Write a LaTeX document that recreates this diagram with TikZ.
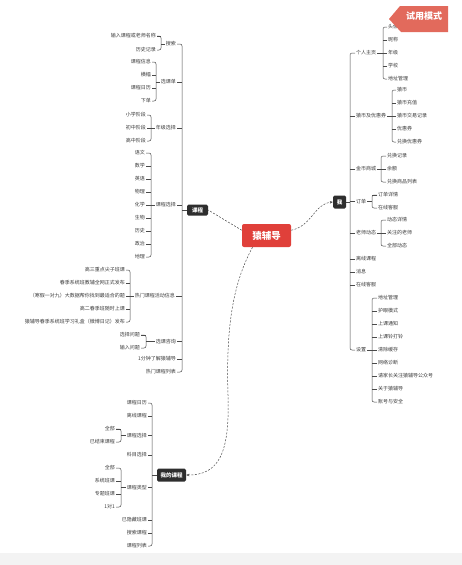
\documentclass[tikz,border=0pt]{standalone}
\usepackage{fontspec}
\setmainfont{Noto Sans CJK SC}
\usepackage{xcolor}
\usetikzlibrary{arrows.meta}
\definecolor{txtc}{HTML}{3A3A3A}
\definecolor{linec}{HTML}{4A4A4A}
\definecolor{hubc}{HTML}{2E2E2E}
\definecolor{rootc}{HTML}{E0403A}
\definecolor{bannerc}{HTML}{E26A5C}
\definecolor{bandc}{HTML}{F3F3F3}
% bracket to the left of a parent: parent, x of bracket, first child, last child, other children
\newcommand{\brkL}[5]{%
  \coordinate (#1v) at (#2,0);
  \draw[br] (#1.west) -- (#1.west -| #1v);
  \draw[br, rounded corners=2pt] (#3.east) -| (#1.west -| #1v) |- (#4.east);
  \foreach \ch in {#5} {\draw[br] (\ch.east) -- (\ch.east -| #1v);}
}
% bracket to the right of a parent
\newcommand{\brkR}[5]{%
  \coordinate (#1v) at (#2,0);
  \draw[br] (#1.east) -- (#1.east -| #1v);
  \draw[br, rounded corners=2pt] (#3.west) -| (#1.east -| #1v) |- (#4.west);
  \foreach \ch in {#5} {\draw[br] (\ch.west) -- (\ch.west -| #1v);}
}
\begin{document}
\begin{tikzpicture}[x=1pt, y=-1pt,
  lt/.style={anchor=east, inner sep=1pt, text=txtc, font=\fontsize{5}{6}\selectfont},
  rt/.style={lt, anchor=west},
  hub/.style={fill=hubc, text=white, rounded corners=1.5pt, inner sep=0pt, font=\fontsize{5.5}{6}\selectfont\bfseries},
  rootbox/.style={fill=rootc, text=white, rounded corners=2pt, inner sep=0pt, minimum width=49pt, minimum height=23pt, font=\fontsize{9.5}{10}\selectfont\bfseries},
  br/.style={draw=linec, line width=0.5pt},
  rel/.style={draw=linec, line width=0.5pt, dash pattern=on 2pt off 1.5pt}]
  \useasboundingbox (0,0) rectangle (462,565);
  \fill[bandc] (0,553) rectangle (462,565);
  % root and main topics
  \node[rootbox] (yf) at (266.5,235.5) {猿辅导};
  \node[hub, minimum width=21pt, minimum height=11pt] (kc) at (197.5,210) {课程};
  \node[hub, minimum width=13pt, minimum height=13pt] (wo) at (339.5,202) {我};
  \node[hub, minimum width=29pt, minimum height=13pt] (mk) at (171.5,475) {我的课程};
  \draw[rel] (yf.168) .. controls (228,222) .. (kc.east);
  \draw[rel, -{Stealth[length=3pt,width=2.5pt]}] (yf.12) .. controls (312,226) and (314,204) .. (wo.west);
  \draw[rel, -{Stealth[length=3pt,width=2.5pt]}] (yf.-140) .. controls (232,285) and (226,330) .. (228,395) .. controls (230,455) and (218,475) .. (mk.east);
  % 课程
  \node[lt] (k1) at (177,44) {搜索};
  \node[lt] (k2) at (177,82) {选课单};
  \node[lt] (k3) at (177,128) {年级选择};
  \node[lt] (k4) at (177,205) {课程选择};
  \node[lt] (k5) at (176,296) {热门课程活动信息};
  \node[lt] (k6) at (177,341.5) {选课咨询};
  \node[lt] (k7) at (177,359) {1分钟了解猿辅导};
  \node[lt] (k8) at (177,372) {热门课程列表};
  \brkL{kc}{182}{k1}{k8}{k2,k3,k4,k5,k6,k7}
  \node[lt] (k1c1) at (157,36) {输入课程或老师名称};
  \node[lt] (k1c2) at (157,50) {历史记录};
  \brkL{k1}{161}{k1c1}{k1c2}{k1c1}
  \foreach \t [count=\i] in {课程信息,横幅,课程日历,下单}
    \node[lt] (k2c\i) at (152,{49+13*\i}) {\t};
  \brkL{k2}{156}{k2c1}{k2c4}{k2c2,k2c3}
  \foreach \t [count=\i] in {小学阶段,初中阶段,高中阶段}
    \node[lt] (k3c\i) at (147,{102+13*\i}) {\t};
  \brkL{k3}{151}{k3c1}{k3c3}{k3c2}
  \foreach \t [count=\i] in {语文,数学,英语,物理,化学,生物,历史,政治,地理}
    \node[lt] (k4c\i) at (146,{140+13*\i}) {\t};
  \brkL{k4}{151}{k4c1}{k4c9}{k4c2,k4c3,k4c4,k4c5,k4c6,k4c7,k4c8}
  \foreach \t [count=\i] in {高三重点尖子班课,春季系统班教辅全网正式发布,（寒假一对九）大数据帮你找到最适合的题,高二春季班随时上课,猿辅导春季系统班学习礼盒（微博日记）发布}
    \node[lt] (k5c\i) at (126,{257+13*\i}) {\t};
  \brkL{k5}{130}{k5c1}{k5c5}{k5c2,k5c3,k5c4}
  \foreach \t [count=\i] in {选择问题,输入问题}
    \node[lt] (k6c\i) at (141,{322+13*\i}) {\t};
  \brkL{k6}{146}{k6c1}{k6c2}{k6c1}
  % 我
  \node[rt] (w1) at (355,53) {个人主页};
  \node[rt] (w2) at (355,116) {猿币及优惠券};
  \node[rt] (w3) at (355,169) {金币商城};
  \node[rt] (w4) at (355,201.5) {订单};
  \node[rt] (w5) at (355,233) {老师动态};
  \node[rt] (w6) at (355,259) {离线课程};
  \node[rt] (w7) at (355,272) {消息};
  \node[rt] (w8) at (355,285) {在线客服};
  \node[rt] (w9) at (355,350) {设置};
  \brkR{wo}{350}{w1}{w9}{w2,w3,w4,w5,w6,w7,w8}
  \foreach \t [count=\i] in {头像,昵称,年级,学校,地址管理}
    \node[rt] (w1c\i) at (387,{14+13*\i}) {\t};
  \brkR{w1}{383}{w1c1}{w1c5}{w1c2,w1c3,w1c4}
  \foreach \t [count=\i] in {猿币,猿币充值,猿币交易记录,优惠券,兑换优惠券}
    \node[rt] (w2c\i) at (396,{77+13*\i}) {\t};
  \brkR{w2}{392}{w2c1}{w2c5}{w2c2,w2c3,w2c4}
  \foreach \t [count=\i] in {兑换记录,余额,兑换商品列表}
    \node[rt] (w3c\i) at (386,{143+13*\i}) {\t};
  \brkR{w3}{381}{w3c1}{w3c3}{w3c2}
  \foreach \t [count=\i] in {订单详情,在线客服}
    \node[rt] (w4c\i) at (377,{182+13*\i}) {\t};
  \brkR{w4}{372}{w4c1}{w4c2}{w4c1}
  \foreach \t [count=\i] in {动态详情,关注的老师,全部动态}
    \node[rt] (w5c\i) at (386,{207+13*\i}) {\t};
  \brkR{w5}{381}{w5c1}{w5c3}{w5c2}
  \foreach \t [count=\i] in {地址管理,护眼模式,上课通知,上课铃打铃,清除缓存,网络诊断,请家长关注猿辅导公众号,关于猿辅导,账号与安全}
    \node[rt] (w9c\i) at (377,{285+13*\i}) {\t};
  \brkR{w9}{372}{w9c1}{w9c9}{w9c2,w9c3,w9c4,w9c5,w9c6,w9c7,w9c8}
  % 我的课程
  \node[lt] (m1) at (148,403) {课程日历};
  \node[lt] (m2) at (148,416) {离线课程};
  \node[lt] (m3) at (148,435.5) {课程选择};
  \node[lt] (m4) at (148,455) {科目选择};
  \node[lt] (m5) at (148,487.5) {课程类型};
  \node[lt] (m6) at (148,520) {已隐藏班课};
  \node[lt] (m7) at (148,533) {搜索课程};
  \node[lt] (m8) at (148,546) {课程列表};
  \brkL{mk}{152}{m1}{m8}{m2,m3,m4,m5,m6,m7}
  \foreach \t [count=\i] in {全部,已结束课程}
    \node[lt] (m3c\i) at (116,{416+13*\i}) {\t};
  \brkL{m3}{121}{m3c1}{m3c2}{m3c1}
  \foreach \t [count=\i] in {全部,系统班课,专题班课,1对1}
    \node[lt] (m5c\i) at (116,{455+13*\i}) {\t};
  \brkL{m5}{121}{m5c1}{m5c4}{m5c2,m5c3}
  % trial banner
  \fill[bannerc] (400,6) -- (448,6) -- (448,32) -- (401,32) -- (389,19) -- cycle;
  \node[text=white, inner sep=0pt, font=\fontsize{9}{10}\selectfont\bfseries] (tb) at (424,16) {试用模式};
\end{tikzpicture}
\end{document}
